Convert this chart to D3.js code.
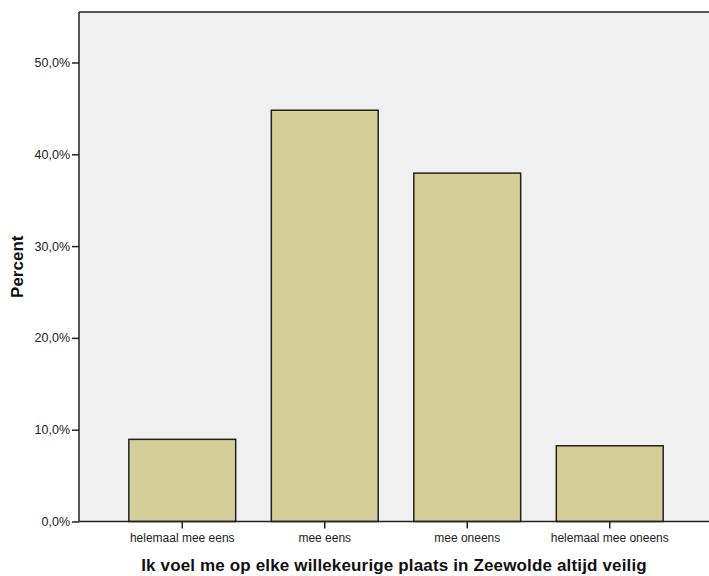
<!DOCTYPE html>
<html><head><meta charset="utf-8">
<script src="https://cdn.jsdelivr.net/npm/d3@7"></script>
<style>body{margin:0;background:#fff;} text{font-family:"Liberation Sans",Arial,sans-serif;}</style>
</head><body>
<svg id="c" width="709" height="576"></svg>
<script>
const categories = ["helemaal mee eens","mee eens","mee oneens","helemaal mee oneens"];
const percents = [8.95, 44.8, 37.95, 8.25];
const yTicks = [0,10,20,30,40,50];
const xTitle = "Ik voel me op elke willekeurige plaats in Zeewolde altijd veilig";
const yTitle = "Percent";

const svg = d3.select("#c");
const plot = {left:79, top:12, right:709, bottom:521.5};
const y = d3.scaleLinear().domain([0,55.5]).range([plot.bottom, plot.top]);
const x = d3.scaleBand().domain(categories).range([111, 681]).paddingInner(0.25).paddingOuter(0.125);

svg.append("rect").attr("x",plot.left).attr("y",plot.top).attr("width",plot.right-plot.left).attr("height",plot.bottom-plot.top).attr("fill","#f0f0f0");

svg.selectAll("rect.bar").data(percents).enter().append("rect").attr("class","bar")
  .attr("x",(d,i)=>x(categories[i])).attr("width",x.bandwidth())
  .attr("y",d=>y(d)).attr("height",d=>y(0)-y(d))
  .attr("fill","#d3cf98").attr("stroke","#222").attr("stroke-width",1.5);

svg.append("line").attr("x1",plot.left).attr("x2",plot.right).attr("y1",plot.top).attr("y2",plot.top).attr("stroke","#222").attr("stroke-width",1.5);

const fmt = d=>d.toFixed(1).replace(".",",")+"%";
const yAxis = svg.append("g").attr("transform",`translate(${plot.left},0)`)
  .call(d3.axisLeft(y).tickValues(yTicks).tickFormat(fmt).tickSize(7).tickPadding(2));
yAxis.select(".domain").attr("stroke","#222").attr("stroke-width",1.5).attr("d",`M0,${plot.top}V${plot.bottom}`);
yAxis.selectAll(".tick line").attr("stroke","#222").attr("stroke-width",1.5);
yAxis.selectAll(".tick text").attr("font-size",12.5).attr("fill","#222").attr("font-family","Liberation Sans, Arial, sans-serif");

const xAxis = svg.append("g").attr("transform",`translate(0,${plot.bottom})`)
  .call(d3.axisBottom(x).tickSize(7).tickPadding(5));
xAxis.select(".domain").attr("stroke","#222").attr("stroke-width",1.5).attr("d",`M${plot.left},0H${plot.right}`);
xAxis.selectAll(".tick line").attr("stroke","#222").attr("stroke-width",1.5);
xAxis.selectAll(".tick text").attr("font-size",12).attr("fill","#222").attr("font-family","Liberation Sans, Arial, sans-serif");

svg.append("text").attr("x",(plot.left+plot.right)/2).attr("y",571).attr("text-anchor","middle")
  .attr("font-size",17).attr("letter-spacing",0.15).attr("font-weight","bold").attr("fill","#111").text(xTitle);
svg.append("text").attr("transform",`translate(23,${(plot.top+plot.bottom)/2}) rotate(-90)`).attr("text-anchor","middle")
  .attr("font-size",17).attr("font-weight","bold").attr("fill","#111").text(yTitle);
</script>
</body></html>
